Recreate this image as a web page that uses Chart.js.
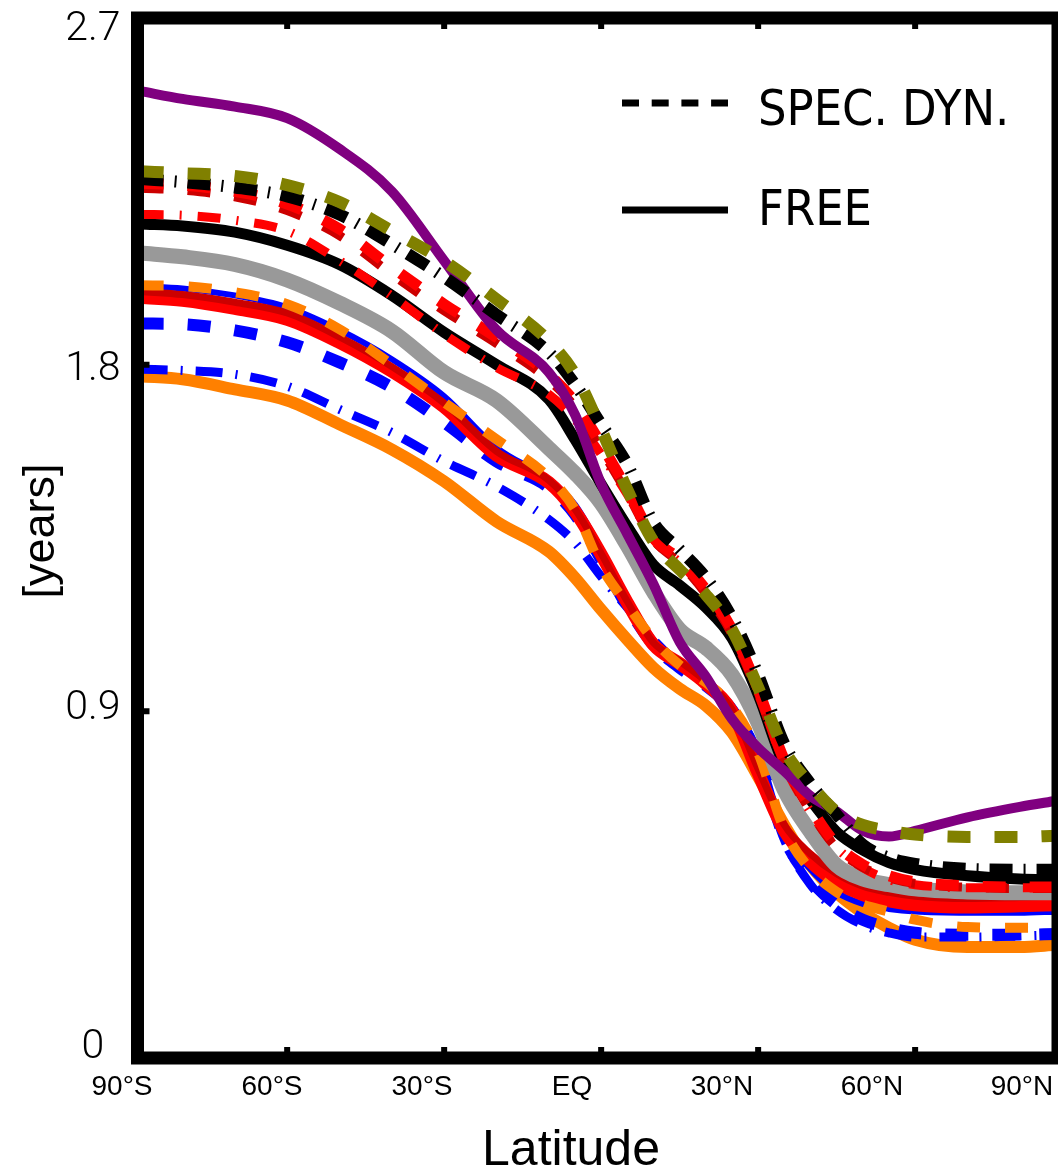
<!DOCTYPE html>
<html>
<head>
<meta charset="utf-8">
<script src="https://cdn.jsdelivr.net/npm/chart.js@4.4.0/dist/chart.umd.min.js"></script>
<style>
  html, body { margin: 0; padding: 0; background: #fff; }
  #caixa { width: 1058px; height: 1170px; }
</style>
</head>
<body>
<div id="caixa"><canvas id="grafico"></canvas></div>
<script>
// eixo x: latitude em graus (negativo = sul)
const latitudes = [-88, -80, -70, -60, -50, -40, -30, -20, -10, -5, 0, 5, 10, 15, 20, 25, 30, 35, 40, 45, 50, 55, 60, 70, 80, 87];

const ticks_lat = [-60, -30, 0, 30, 60];
const valores_labels_lat = [-90, -60, -30, 0, 30, 60, 90];
const labels_lat = ['90°S', '60°S', '30°S', 'EQ', '30°N', '60°N', '90°N'];
const ticks_anos = [0, 0.9, 1.8, 2.7];
const labels_anos = ['0', '0.9', '1.8', '2.7'];

/* FREE (linhas cheias) */
const roxo_free = [2.51, 2.49, 2.47, 2.44, 2.36, 2.25, 2.07, 1.89, 1.78, 1.67, 1.49, 1.36, 1.23, 1.08, 0.99, 0.88, 0.805, 0.745, 0.68, 0.64, 0.59, 0.575, 0.59, 0.625, 0.652, 0.668];
const preto_free = [2.165, 2.16, 2.144, 2.11, 2.06, 1.98, 1.884, 1.80, 1.71, 1.606, 1.49, 1.38, 1.28, 1.227, 1.17, 1.09, 0.943, 0.76, 0.67, 0.587, 0.54, 0.507, 0.489, 0.473, 0.465, 0.463];
const cinza_free = [2.09, 2.08, 2.06, 2.02, 1.96, 1.887, 1.78, 1.707, 1.583, 1.518, 1.44, 1.33, 1.21, 1.112, 1.065, 0.995, 0.87, 0.696, 0.587, 0.50, 0.465, 0.45, 0.439, 0.431, 0.429, 0.429];
const vermelho_free = [1.975, 1.967, 1.946, 1.918, 1.858, 1.783, 1.69, 1.565, 1.494, 1.419, 1.307, 1.182, 1.073, 1.024, 0.972, 0.90, 0.74, 0.59, 0.51, 0.457, 0.424, 0.408, 0.398, 0.392, 0.395, 0.398];
const vinho_free = [1.99, 1.982, 1.962, 1.934, 1.872, 1.795, 1.70, 1.575, 1.50, 1.425, 1.31, 1.185, 1.078, 1.03, 0.978, 0.905, 0.75, 0.605, 0.53, 0.478, 0.446, 0.43, 0.42, 0.414, 0.417, 0.42];
const azul_free = [2.003, 1.998, 1.98, 1.949, 1.89, 1.814, 1.718, 1.585, 1.502, 1.437, 1.32, 1.19, 1.086, 1.02, 0.977, 0.917, 0.80, 0.585, 0.49, 0.43, 0.40, 0.387, 0.38, 0.377, 0.377, 0.38];
const laranja_free = [1.77, 1.762, 1.736, 1.707, 1.645, 1.58, 1.497, 1.393, 1.315, 1.247, 1.164, 1.086, 1.013, 0.959, 0.915, 0.845, 0.73, 0.605, 0.50, 0.429, 0.377, 0.338, 0.307, 0.288, 0.288, 0.294];

/* SPEC. DYN. (tracejadas) */
const oliva_spec = [2.302, 2.297, 2.29, 2.266, 2.222, 2.147, 2.069, 1.97, 1.861, 1.775, 1.632, 1.476, 1.341, 1.268, 1.203, 1.112, 0.962, 0.80, 0.71, 0.639, 0.605, 0.59, 0.58, 0.574, 0.574, 0.577];
const preto_spec = [2.282, 2.274, 2.26, 2.237, 2.19, 2.113, 2.027, 1.93, 1.832, 1.749, 1.645, 1.541, 1.39, 1.32, 1.247, 1.143, 0.995, 0.815, 0.712, 0.632, 0.554, 0.52, 0.504, 0.491, 0.489, 0.489];
const vermelho_spec = [2.271, 2.266, 2.25, 2.217, 2.152, 2.053, 1.957, 1.871, 1.775, 1.702, 1.593, 1.476, 1.351, 1.294, 1.216, 1.112, 0.956, 0.774, 0.65, 0.554, 0.502, 0.473, 0.457, 0.447, 0.444, 0.444];
const vinho_spec = [2.258, 2.253, 2.236, 2.20, 2.135, 2.035, 1.94, 1.855, 1.76, 1.69, 1.58, 1.465, 1.345, 1.285, 1.205, 1.10, 0.945, 0.765, 0.64, 0.545, 0.495, 0.468, 0.453, 0.443, 0.44, 0.44];
const vermelho_traco_ponto = [2.19, 2.188, 2.175, 2.147, 2.07, 1.978, 1.879, 1.793, 1.723, 1.658, 1.567, 1.463, 1.346, 1.286, 1.211, 1.107, 0.951, 0.761, 0.639, 0.546, 0.494, 0.463, 0.45, 0.442, 0.442, 0.442];
const laranja_spec = [2.006, 2.004, 1.988, 1.957, 1.892, 1.80, 1.702, 1.606, 1.507, 1.424, 1.276, 1.177, 1.086, 1.02, 0.975, 0.912, 0.793, 0.593, 0.489, 0.431, 0.398, 0.38, 0.359, 0.34, 0.338, 0.338];
const azul_spec = [1.907, 1.905, 1.889, 1.858, 1.806, 1.741, 1.65, 1.549, 1.481, 1.411, 1.294, 1.172, 1.073, 1.013, 0.967, 0.904, 0.78, 0.572, 0.463, 0.398, 0.359, 0.338, 0.325, 0.32, 0.32, 0.322];
const azul_traco_ponto = [1.788, 1.785, 1.775, 1.744, 1.684, 1.624, 1.549, 1.484, 1.398, 1.338, 1.25, 1.169, 1.086, 1.02, 0.969, 0.899, 0.774, 0.567, 0.45, 0.385, 0.346, 0.325, 0.314, 0.314, 0.317, 0.32];

const TRACO = [23, 24];
const TRACO_PONTO = [23, 11, 2, 11];

function serie(valores, cor, largura, dash) {
    return {
        data: valores.map((v, i) => ({ x: latitudes[i], y: v })),
        borderColor: cor,
        borderWidth: largura,
        borderDash: dash || [],
        borderCapStyle: 'butt',
        borderJoinStyle: 'round',
        pointRadius: 0,
        fill: false,
        cubicInterpolationMode: 'monotone'
    };
}

// a primeira fica por cima
const datasets = [
    serie(oliva_spec, '#808000', 12, TRACO),
    serie(preto_spec, '#000000', 12, TRACO_PONTO),
    serie(roxo_free, '#800080', 10),
    serie(vermelho_spec, '#ff0000', 11, TRACO),
    serie(vinho_spec, '#cc0000', 9, TRACO),
    serie(vermelho_traco_ponto, '#ff0000', 9, [23, 16, 2, 16]),
    serie(preto_free, '#000000', 11),
    serie(cinza_free, '#999999', 15),
    serie(laranja_spec, '#ff8000', 10, [23, 25]),
    serie(vinho_free, '#cc0000', 7),
    serie(vermelho_free, '#ff0000', 13),
    serie(azul_free, '#0000ff', 6),
    serie(azul_spec, '#0000ff', 12, TRACO),
    serie(azul_traco_ponto, '#0000ff', 9, [27, 13, 2, 13]),
    serie(laranja_free, '#ff8000', 12)
];

const moldura = {
    id: 'moldura',
    afterDatasetsDraw(chart) {
        const { ctx, chartArea: a, scales } = chart;
        ctx.save();
        ctx.strokeStyle = '#000';
        ctx.lineWidth = 13;
        ctx.strokeRect(a.left, a.top, a.right - a.left, a.bottom - a.top);
        ctx.lineWidth = 6;
        ctx.beginPath();
        ticks_lat.forEach(v => {
            const px = scales.x.getPixelForValue(v);
            ctx.moveTo(px, a.top + 6); ctx.lineTo(px, a.top + 11);
            ctx.moveTo(px, a.bottom - 6); ctx.lineTo(px, a.bottom - 11);
        });
        ticks_anos.forEach(v => {
            const py = scales.y.getPixelForValue(v);
            ctx.moveTo(a.left + 6, py); ctx.lineTo(a.left + 12, py);
        });
        ctx.stroke();
        ctx.restore();
    }
};

const legenda_e_titulos = {
    id: 'legenda_e_titulos',
    afterDraw(chart) {
        const { ctx, chartArea: a } = chart;
        ctx.save();
        ctx.strokeStyle = '#000';
        ctx.lineWidth = 7;
        ctx.lineCap = 'butt';
        const x0 = a.right - 436, x1 = a.right - 330;
        ctx.setLineDash([17, 12.7]);
        ctx.beginPath(); ctx.moveTo(x0, a.top + 85); ctx.lineTo(x1, a.top + 85); ctx.stroke();
        ctx.setLineDash([]);
        ctx.beginPath(); ctx.moveTo(x0, a.top + 192); ctx.lineTo(x1, a.top + 192); ctx.stroke();

        ctx.fillStyle = '#000';
        ctx.textBaseline = 'alphabetic';
        ctx.textAlign = 'left';
        ctx.font = '50px "Liberation Sans Narrow", "DejaVu Sans Condensed", "Liberation Sans", sans-serif';
        ctx.fillText('SPEC. DYN.', a.right - 300, a.top + 107);
        ctx.fillText('FREE', a.right - 300, a.top + 207);

        ctx.font = '50px "Liberation Sans", sans-serif';
        ctx.textAlign = 'center';
        ctx.fillText('Latitude', 571, 1165);

        ctx.translate(42, 531);
        ctx.rotate(-Math.PI / 2);
        ctx.textBaseline = 'middle';
        ctx.font = '45px "Liberation Sans", sans-serif';
        ctx.fillText('[years]', 0, 0);
        ctx.restore();
    }
};

const config = {
    type: 'line',
    data: { datasets: datasets },
    options: {
        responsive: true,
        maintainAspectRatio: false,
        animation: false,
        layout: { padding: { top: 18, right: 0, left: 0, bottom: 0 } },
        scales: {
            x: { type: 'linear', min: -88.6, max: 87.3, display: false },
            y: { type: 'linear', min: 0, max: 2.7, display: false },
            xl: {
                type: 'linear',
                position: 'bottom',
                min: -86.9,
                max: 97.2,
                afterBuildTicks: s => { s.ticks = valores_labels_lat.map(v => ({ value: v })); },
                afterFit: s => { s.height = 112; s.paddingLeft = 0; s.paddingRight = 0; },
                grid: { display: false, drawTicks: false },
                border: { display: false },
                ticks: {
                    autoSkip: false,
                    maxRotation: 0,
                    minRotation: 0,
                    padding: 12,
                    color: '#000',
                    font: { size: 28, family: '"Liberation Sans", sans-serif' },
                    callback: (v, i) => labels_lat[i]
                }
            },
            yl: {
                type: 'linear',
                position: 'left',
                min: -0.0265,
                max: 2.7319,
                afterBuildTicks: s => { s.ticks = ticks_anos.map(v => ({ value: v })); },
                afterFit: s => { s.width = 137.5; s.paddingTop = 0; s.paddingBottom = 0; },
                grid: { display: false, drawTicks: false },
                border: { display: false },
                ticks: {
                    autoSkip: false,
                    crossAlign: 'center',
                    padding: 17,
                    color: '#000',
                    font: { size: 41, family: 'Roboto, "Liberation Sans", sans-serif', weight: 300 },
                    callback: (v, i) => labels_anos[i]
                }
            }
        },
        plugins: {
            legend: { display: false },
            tooltip: { enabled: false },
            title: { display: false }
        }
    },
    plugins: [moldura, legenda_e_titulos]
};

const grafico = new Chart(document.getElementById('grafico'), config);
</script>
</body>
</html>
